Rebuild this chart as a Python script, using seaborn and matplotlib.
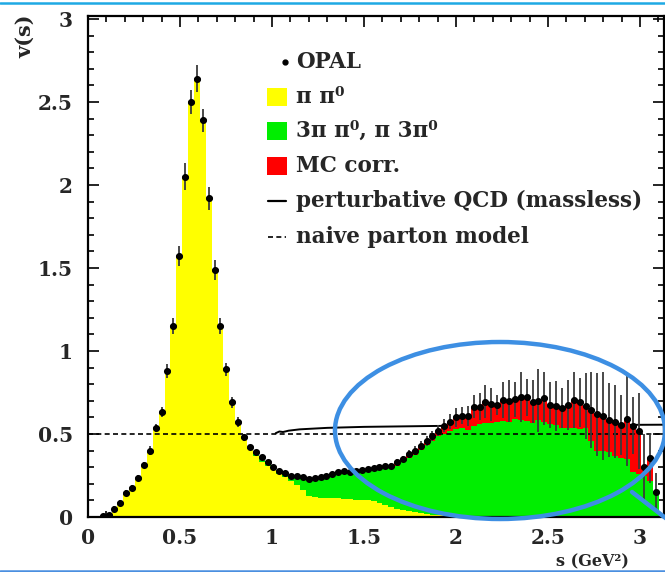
import numpy as np
import pandas as pd
import matplotlib
matplotlib.use("Agg")
import matplotlib.pyplot as plt
import seaborn as sns
from matplotlib.patches import Ellipse, Rectangle
from matplotlib.lines import Line2D
from matplotlib.ticker import MultipleLocator, FuncFormatter

# ---------------- data ----------------
bin_width = 0.032          # GeV^2
n_bins = 97

opal_v = [0.0, 0.0, 0.005, 0.012, 0.05, 0.087, 0.145, 0.175, 0.235, 0.313,
          0.40, 0.536, 0.63, 0.88, 1.15, 1.57, 2.05, 2.50, 2.64, 2.39,
          1.92, 1.49, 1.15, 0.89, 0.69, 0.57, 0.48, 0.42, 0.39, 0.36,
          0.33, 0.30, 0.28, 0.265, 0.25, 0.245, 0.24, 0.23, 0.235, 0.24,
          0.25, 0.26, 0.27, 0.275, 0.27, 0.275, 0.285, 0.29, 0.295, 0.30,
          0.305, 0.31, 0.33, 0.35, 0.38, 0.40, 0.43, 0.46, 0.49, 0.52,
          0.55, 0.575, 0.60, 0.61, 0.61, 0.665, 0.665, 0.695, 0.68, 0.675,
          0.705, 0.70, 0.71, 0.725, 0.72, 0.695, 0.70, 0.715, 0.675, 0.67,
          0.655, 0.675, 0.705, 0.69, 0.67, 0.645, 0.62, 0.61, 0.585, 0.575,
          0.555, 0.59, 0.55, 0.52, 0.30, 0.355, 0.15]

opal_err = [0.0, 0.0, 0.005, 0.01, 0.015, 0.015, 0.02, 0.02, 0.02, 0.02,
            0.025, 0.025, 0.03, 0.04, 0.05, 0.06, 0.08, 0.07, 0.08, 0.07,
            0.07, 0.06, 0.05, 0.04, 0.035, 0.03, 0.02, 0.015, 0.012, 0.012,
            0.012, 0.012, 0.012, 0.012, 0.012, 0.012, 0.012, 0.012, 0.012, 0.012,
            0.012, 0.012, 0.012, 0.012, 0.012, 0.012, 0.012, 0.012, 0.012, 0.012,
            0.015, 0.018, 0.02, 0.02, 0.022, 0.025, 0.025, 0.03, 0.03, 0.035,
            0.04, 0.045, 0.055, 0.05, 0.06, 0.07, 0.08, 0.1, 0.1, 0.06,
            0.11, 0.125, 0.105, 0.15, 0.11, 0.13, 0.19, 0.16, 0.14, 0.15,
            0.12, 0.15, 0.17, 0.15, 0.2, 0.23, 0.25, 0.265, 0.225, 0.22,
            0.18, 0.285, 0.17, 0.23, 0.2, 0.15, 0.115]

pipi0 = [0.0, 0.0, 0.005, 0.012, 0.05, 0.087, 0.145, 0.175, 0.235, 0.313,
         0.40, 0.536, 0.63, 0.88, 1.15, 1.57, 2.05, 2.50, 2.64, 2.39,
         1.92, 1.49, 1.15, 0.89, 0.69, 0.57, 0.48, 0.41, 0.37, 0.33,
         0.31, 0.285, 0.26, 0.24, 0.215, 0.19, 0.16, 0.125, 0.12, 0.115,
         0.115, 0.115, 0.115, 0.11, 0.11, 0.105, 0.10, 0.10, 0.095, 0.085,
         0.07, 0.06, 0.05, 0.04, 0.035, 0.03, 0.025, 0.02, 0.015, 0.012,
         0.01, 0.008, 0.006, 0.005, 0.004, 0.004, 0.004, 0.004, 0.004, 0.004,
         0.004, 0.004, 0.004, 0.004, 0.004, 0.004, 0.004, 0.004, 0.004, 0.004,
         0.004, 0.004, 0.004, 0.004, 0.004, 0.004, 0.004, 0.004, 0.004, 0.004,
         0.004, 0.004, 0.004, 0.004, 0.004, 0.004, 0.004]

three_pi = [0.0, 0.0, 0.0, 0.0, 0.0, 0.0, 0.0, 0.0, 0.0, 0.0,
            0.0, 0.0, 0.0, 0.0, 0.0, 0.0, 0.0, 0.0, 0.0, 0.0,
            0.0, 0.0, 0.0, 0.0, 0.0, 0.0, 0.0, 0.01, 0.02, 0.03,
            0.02, 0.015, 0.02, 0.025, 0.035, 0.055, 0.08, 0.105, 0.115, 0.125,
            0.135, 0.145, 0.155, 0.16, 0.155, 0.16, 0.17, 0.175, 0.185, 0.20,
            0.22, 0.235, 0.26, 0.29, 0.32, 0.345, 0.38, 0.415, 0.445, 0.475,
            0.49, 0.51, 0.525, 0.53, 0.52, 0.545, 0.555, 0.565, 0.56, 0.57,
            0.575, 0.57, 0.585, 0.58, 0.575, 0.565, 0.58, 0.57, 0.555, 0.55,
            0.535, 0.53, 0.53, 0.525, 0.53, 0.455, 0.395, 0.395, 0.385, 0.365,
            0.35, 0.345, 0.265, 0.255, 0.245, 0.215, 0.145]

mc_corr = [0.0] * 40 + [
           0.0, 0.0, 0.0, 0.005, 0.005, 0.01, 0.015, 0.015, 0.015, 0.015,
           0.015, 0.015, 0.02, 0.02, 0.025, 0.025, 0.025, 0.025, 0.03, 0.033,
           0.05, 0.057, 0.069, 0.075, 0.086, 0.116, 0.106, 0.126, 0.116, 0.101,
           0.126, 0.126, 0.121, 0.141, 0.141, 0.126, 0.116, 0.141, 0.116, 0.116,
           0.116, 0.141, 0.171, 0.161, 0.136, 0.186, 0.221, 0.211, 0.196, 0.206,
           0.201, 0.241, 0.281, 0.261, 0.051, 0.136, 0.001]

pqcd_s = [1.02, 1.04, 1.06, 1.09, 1.15, 1.3, 1.5, 2.0, 2.5, 3.13]
pqcd_v = [0.505, 0.515, 0.512, 0.52, 0.528, 0.537, 0.543, 0.55, 0.553, 0.556]
naive_v = 0.5

comp_names = ["\u03c0 \u03c0\u2070", "3\u03c0 \u03c0\u2070, \u03c0 3\u03c0\u2070", "MC corr."]
comp_colors = ["#ffff00", "#00ee00", "#ff0000"]

# ---------------- figure ----------------
W, H = 665, 572
sns.set_theme(style="ticks")
plt.rcParams["font.family"] = ["DejaVu Serif"]
plt.rcParams["font.weight"] = "bold"

fig = plt.figure(figsize=(W / 100, H / 100), dpi=100)
fig.patch.set_facecolor("white")
ax_left, ax_right, ax_top, ax_bottom = 88, 664, 16, 517
ax = fig.add_axes([ax_left / W, 1 - ax_bottom / H,
                   (ax_right - ax_left) / W, (ax_bottom - ax_top) / H])
ax.set_facecolor("white")

edges = [round(i * bin_width, 4) for i in range(n_bins + 1)]
centers = np.array(edges[:-1]) + bin_width / 2

df = pd.DataFrame({
    "s": np.tile(centers, 3),
    "v": pipi0 + three_pi + mc_corr,
    "comp": np.repeat(comp_names, n_bins),
})
sns.histplot(data=df, x="s", weights="v", hue="comp",
             hue_order=comp_names[::-1], palette=dict(zip(comp_names, comp_colors)),
             multiple="stack", bins=edges, element="step", fill=True,
             alpha=1, linewidth=0, legend=False, ax=ax, zorder=2)

# perturbative QCD (behind the histogram)
sns.lineplot(x=pqcd_s, y=pqcd_v, color="black", lw=1.4, ax=ax, zorder=1,
             sort=False, estimator=None)
# naive parton model (on top)
ax.axhline(naive_v, color="black", lw=1.2, ls=(0, (3, 2)), zorder=3)

# OPAL data
opal = pd.DataFrame({"s": centers, "v": opal_v, "e": opal_err})
opal = opal[opal["v"] > 0]
ax.errorbar(opal["s"], opal["v"], yerr=opal["e"], fmt="none",
            ecolor="#3a3a3a", elinewidth=1.3, zorder=4)
ax.errorbar(opal["s"], opal["v"], xerr=bin_width / 2, fmt="none",
            ecolor="black", elinewidth=2.2, zorder=5)
sns.scatterplot(x=opal["s"], y=opal["v"], color="black", s=26, marker="o",
                edgecolor="black", linewidth=0, ax=ax, zorder=6)

ax.set_xlim(0, (ax_right - ax_left) / 184.0)
ax.set_ylim(0, (ax_bottom - ax_top) / 166.0)
ax.set_xlabel("")
ax.set_ylabel("")
ax.xaxis.set_major_locator(MultipleLocator(0.5))
ax.xaxis.set_minor_locator(MultipleLocator(0.1))
ax.yaxis.set_major_locator(MultipleLocator(0.5))
ax.yaxis.set_minor_locator(MultipleLocator(0.1))
fmt = FuncFormatter(lambda v, p: "%g" % round(v, 2))
ax.xaxis.set_major_formatter(fmt)
ax.yaxis.set_major_formatter(fmt)
ax.tick_params(which="both", direction="in", top=True, right=True,
               width=1.2, color="black")
ax.tick_params(which="major", length=8, labelsize=14.5)
ax.tick_params(which="minor", length=4)
ax.tick_params(axis="y", pad=11)
ax.tick_params(axis="x", pad=8)
for lab in ax.get_xticklabels() + ax.get_yticklabels():
    lab.set_fontweight("bold")
for sp in ax.spines.values():
    sp.set_visible(True)
    sp.set_linewidth(1.6)
    sp.set_color("black")

# axis titles
fig.text(25 / W, 1 - 36 / H, "v(s)", rotation=90, ha="center", va="center",
         fontsize=15, fontweight="bold")
fig.text(556 / W, 1 - 570 / H, "s (GeV\u00b2)", ha="left", va="bottom",
         fontsize=11.5, fontweight="bold")

# legend (drawn row by row)
def fx(x):
    return x / W

def fy(y):
    return 1 - y / H

tx = 296
leg_fs = 15.5
fig.add_artist(Line2D([fx(285)], [fy(62)], marker="o", ms=3.5, color="black",
                      transform=fig.transFigure))
fig.text(fx(tx), fy(62), "OPAL", ha="left", va="center", fontsize=leg_fs,
         fontweight="bold")
rows = [97, 131, 166]
for yrow, name, col in zip(rows, comp_names, comp_colors):
    fig.add_artist(Rectangle((fx(267), fy(yrow + 9)), 20 / W, 18 / H,
                             transform=fig.transFigure, facecolor=col,
                             edgecolor="none"))
    fig.text(fx(tx), fy(yrow), name, ha="left", va="center", fontsize=leg_fs,
             fontweight="bold")
fig.add_artist(Line2D([fx(268), fx(286)], [fy(201), fy(201)], color="black",
                      lw=1.6, transform=fig.transFigure))
fig.text(fx(tx), fy(201), "perturbative QCD (massless)", ha="left",
         va="center", fontsize=leg_fs, fontweight="bold")
fig.add_artist(Line2D([fx(268), fx(286)], [fy(237), fy(237)], color="black",
                      lw=1.2, ls=(0, (3, 2)), transform=fig.transFigure))
fig.text(fx(tx), fy(237), "naive parton model", ha="left", va="center",
         fontsize=leg_fs, fontweight="bold")

# blue annotation ellipse and frame lines
fig.add_artist(Ellipse((500 / W, fy(430.5)), 330 / W, 177 / H,
                       transform=fig.transFigure, fill=False,
                       edgecolor="#3d8fe3", lw=3.2, zorder=10))
fig.add_artist(Line2D([fx(632), fx(672)], [fy(492), fy(523)], color="#3d8fe3",
                      lw=3.2, transform=fig.transFigure, zorder=10))
fig.add_artist(Line2D([0, 1], [fy(3), fy(3)], color="#1ea9e4", lw=1.8,
                      transform=fig.transFigure, zorder=10))
fig.add_artist(Line2D([0, 1], [fy(570.5), fy(570.5)], color="#4a8fe0", lw=1.8,
                      transform=fig.transFigure, zorder=10))

fig.savefig("out.png", dpi=100)
